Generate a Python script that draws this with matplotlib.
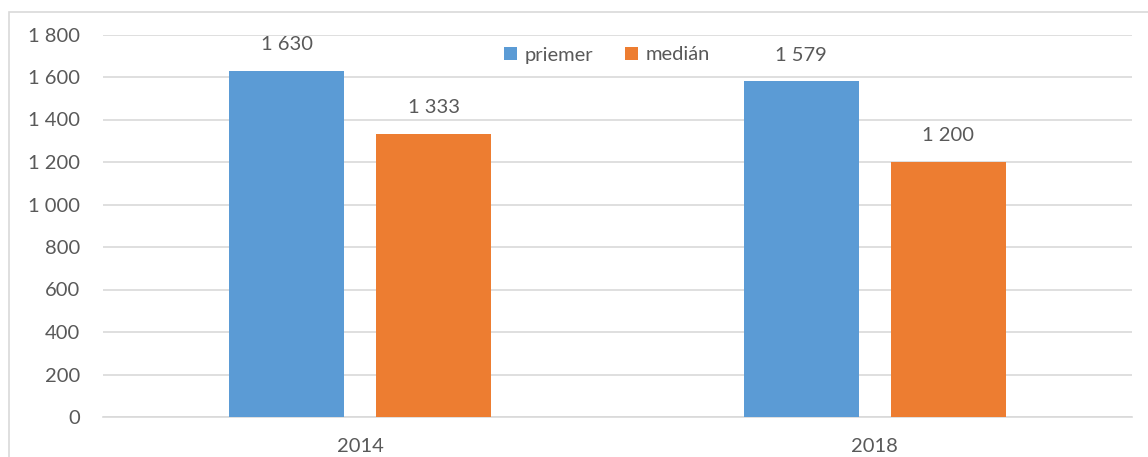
import matplotlib.pyplot as plt
from matplotlib.patches import Rectangle
import numpy as np

plt.rcParams['font.family'] = ['Lato', 'DejaVu Sans']

years = ['2014', '2018']
priemer = [1630, 1579]
median = [1333, 1200]
yticks = [0, 200, 400, 600, 800, 1000, 1200, 1400, 1600, 1800]

blue = '#5B9BD5'
orange = '#ED7D31'
txt = '#595959'
grid = '#D9D9D9'
fs = 14.5


def fmt(v):
    return f'{v:,}'.replace(',', ' ')


fig = plt.figure(figsize=(11.48, 4.57), dpi=100)
W, H = 1148, 457
ax = fig.add_axes([103 / W, 1 - 417 / H, (1132 - 103) / W, (417 - 34.5) / H])

# chart frame (runs off the right and bottom edges)
fig.patches.append(Rectangle((9 / W, -0.1), 1.2, 1 - 12 / H + 0.1,
                             transform=fig.transFigure, fill=False,
                             edgecolor=grid, linewidth=1.2))

x = np.arange(len(years))
w = 0.2235
off = 0.1429
b1 = ax.bar(x - off, priemer, w, color=blue, label='priemer', zorder=3)
b2 = ax.bar(x + off, median, w, color=orange, label='medián', zorder=3)

for bars, vals in ((b1, priemer), (b2, median)):
    for r, v in zip(bars, vals):
        ax.annotate(fmt(v), (r.get_x() + r.get_width() / 2, v),
                    xytext=(0, 19), textcoords='offset points',
                    ha='center', va='center', fontsize=fs, color=txt)

ax.set_xlim(-0.5, 1.5)
ax.set_ylim(0, 1800)
ax.set_yticks(yticks)
ax.set_yticklabels([fmt(v) for v in yticks])
ax.set_xticks(x)
ax.set_xticklabels(years)
ax.tick_params(axis='both', length=0, labelsize=fs, labelcolor=txt)
ax.tick_params(axis='y', pad=16.5)
ax.tick_params(axis='x', pad=15)
ax.grid(axis='y', color=grid, linewidth=1.2, zorder=0)
for s in ('top', 'right', 'left'):
    ax.spines[s].set_visible(False)
ax.spines['bottom'].set_color(grid)
ax.spines['bottom'].set_linewidth(1.2)

ax.legend(loc='center', bbox_to_anchor=(607 / W, 1 - 55 / H),
          bbox_transform=fig.transFigure, ncol=2, frameon=False,
          fontsize=fs, labelcolor=txt, handlelength=0.65, handleheight=0.65,
          handletextpad=0.35, columnspacing=1.6)

fig.savefig('out.png', dpi=100)
